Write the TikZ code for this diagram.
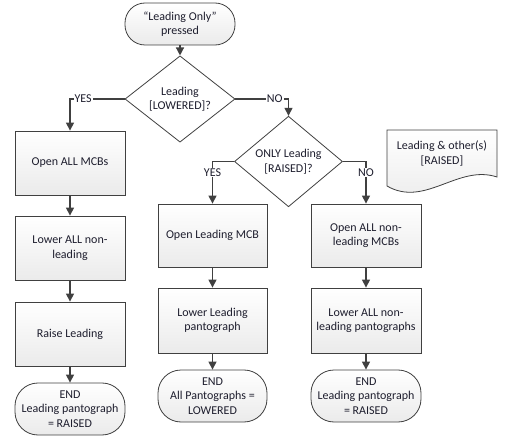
\documentclass[tikz,border=0pt]{standalone}
\usepackage{fontspec}
\setmainfont{Carlito}
\usetikzlibrary{shapes.geometric,arrows.meta}
\definecolor{edge}{HTML}{404040}
\definecolor{txt}{HTML}{1E1E2E}
\tikzset{
  base/.style={draw=edge, line width=0.8pt, text=txt, align=center, inner sep=1pt,
    font=\fontsize{12}{14.5}\selectfont},
  procbox/.style={base, rectangle, top color=white, bottom color=gray!16,
    minimum width=110pt, minimum height=64pt},
  termbox/.style={base, rectangle, rounded corners=23pt, top color=white, bottom color=gray!16,
    minimum width=110pt, minimum height=52pt},
  decbox/.style={base, diamond, fill=white, inner sep=0pt},
  conn/.style={draw=edge, line width=1.3pt, -{Triangle[length=8pt,width=8pt]}},
  lbl/.style={fill=white, inner sep=1pt, text=txt, font=\fontsize{12}{14}\selectfont}
}
\begin{document}
\begin{tikzpicture}[x=1pt,y=-1pt]
\useasboundingbox (0,0) rectangle (507,436);
% top
\node[termbox, minimum height=42pt, rounded corners=20pt] (start) at (180,24) {“Leading Only”\\pressed};
\node[decbox, minimum width=110pt, minimum height=64pt] (d1) at (180,99) {Leading\\{[}LOWERED{]}?};
% left column
\node[procbox] (b1) at (70,163) {Open ALL MCBs};
\node[procbox] (b2) at (70,248) {Lower ALL non-\\leading};
\node[procbox] (b3) at (70,334) {Raise Leading};
\node[termbox] (e1) at (70,409) {END\\Leading pantograph\\= RAISED};
% second decision
\node[decbox, minimum width=108pt, minimum height=63pt] (d2) at (288.5,161.5) {ONLY Leading\\{[}RAISED{]}?};
% middle column
\node[procbox, minimum width=109pt, minimum height=63pt] (b4) at (212.5,235.5) {Open Leading MCB};
\node[procbox, minimum width=109pt, minimum height=65pt] (b5) at (212.5,320.5) {Lower Leading\\pantograph};
\node[termbox, minimum width=109pt] (e2) at (212.5,396) {END\\All Pantographs =\\LOWERED};
% right column
\node[procbox, minimum width=110pt, minimum height=63pt] (b6) at (366,235.5) {Open ALL non-\\leading MCBs};
\node[procbox, minimum width=110pt, minimum height=65pt] (b7) at (366,320.5) {Lower ALL non-\\leading pantographs};
\node[termbox] (e3) at (366,396) {END\\Leading pantograph\\= RAISED};
% document shape
\coordinate (docA) at (387,130);
\coordinate (docB) at (497,130);
\coordinate (docC) at (497,177);
\coordinate (docD) at (387,186);
\draw[draw=edge, line width=0.8pt, top color=white, bottom color=gray!16]
  (docA) -- (docB) -- (docC) .. controls (458,164) and (425,208) .. (docD) -- cycle;
\node[base, draw=none, inner sep=0pt] (doc) at (442,153.5) {Leading \& other(s)\\{[}RAISED{]}};
% connectors
\draw[conn] (start) -- (d1);
\draw[conn] (d1.west) -| node[lbl, pos=0.38] {YES} (b1.north);
\draw[conn] (d1.east) -| node[lbl, pos=0.37] {NO} (d2.north);
\draw[conn] (b1) -- (b2);
\draw[conn] (b2) -- (b3);
\draw[conn] (b3) -- (e1);
\draw[conn] (d2.west) -| node[lbl, pos=0.63] {YES} (b4.north);
\draw[conn] (d2.east) -| node[lbl, pos=0.63] {NO} (b6.north);
\draw[conn] (b4) -- (b5);
\draw[conn] (b5) -- (e2);
\draw[conn] (b6) -- (b7);
\draw[conn] (b7) -- (e3);
\end{tikzpicture}
\end{document}
